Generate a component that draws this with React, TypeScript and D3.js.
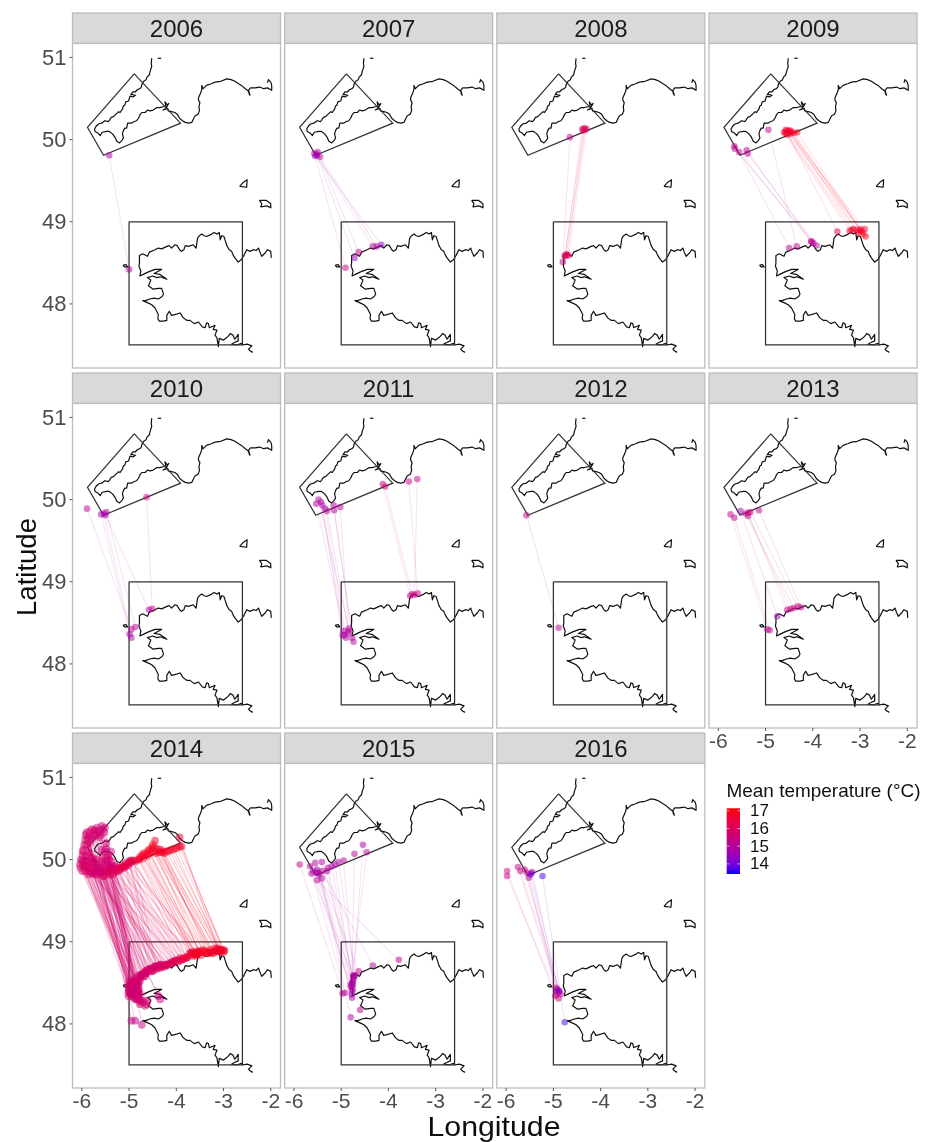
import React from "react";
import * as d3 from "d3";

type Seg = [number, number, number, number, number];
type Pt = [number, number];

const lonTicks = [-6, -5, -4, -3, -2];
const latTicks = [48, 49, 50, 51];
const legendTicks = [14, 15, 16, 17];

const celticBox: Pt[] = [[-4.89, 50.8], [-5.88, 50.15], [-5.54, 49.81], [-3.91, 50.2], [-4.89, 50.8]];
const brittanyBox: Pt[] = [[-5, 49], [-2.6, 49], [-2.6, 47.5], [-5, 47.5], [-5, 49]];

const coastEngland: Pt[] = [
  [-4.52, 50.99], [-4.53, 50.93], [-4.52, 50.89], [-4.55, 50.84], [-4.57, 50.79], [-4.62, 50.76], [-4.64, 50.73], [-4.69, 50.71], [-4.73, 50.67],
  [-4.74, 50.64], [-4.77, 50.62], [-4.82, 50.61], [-4.87, 50.58], [-4.92, 50.58], [-4.96, 50.55], [-4.86, 50.54], [-4.92, 50.52], [-4.98, 50.53],
  [-5.01, 50.47], [-5.07, 50.46], [-5.09, 50.42], [-5.12, 50.41], [-5.14, 50.37], [-5.19, 50.33], [-5.22, 50.34], [-5.26, 50.32], [-5.33, 50.28], [-5.38, 50.27], [-5.41, 50.24], [-5.44, 50.22],
  [-5.51, 50.23], [-5.58, 50.2], [-5.65, 50.19], [-5.7, 50.16], [-5.73, 50.13], [-5.72, 50.1], [-5.66, 50.08], [-5.61, 50.05], [-5.57, 50.09],
  [-5.47, 50.1], [-5.42, 50.1], [-5.35, 50.07], [-5.3, 50.03], [-5.26, 49.98], [-5.2, 49.96], [-5.15, 49.99], [-5.12, 50.02], [-5.14, 50.07],
  [-5.12, 50.11], [-5.09, 50.14], [-5.05, 50.14], [-5.03, 50.2], [-5.01, 50.2], [-4.95, 50.2], [-4.89, 50.22], [-4.84, 50.23], [-4.8, 50.26],
  [-4.77, 50.3], [-4.73, 50.33], [-4.66, 50.33], [-4.61, 50.36], [-4.56, 50.35], [-4.49, 50.36], [-4.41, 50.39], [-4.35, 50.39], [-4.28, 50.4],
  [-4.22, 50.4], [-4.24, 50.46], [-4.19, 50.42], [-4.16, 50.44], [-4.22, 50.38], [-4.28, 50.36], [-4.18, 50.38], [-4.17, 50.35], [-4.1, 50.34],
  [-4.03, 50.33], [-3.98, 50.31], [-3.93, 50.26], [-3.87, 50.23], [-3.81, 50.21], [-3.74, 50.2], [-3.67, 50.21], [-3.63, 50.26], [-3.6, 50.29],
  [-3.54, 50.31], [-3.51, 50.35], [-3.52, 50.4], [-3.5, 50.45], [-3.53, 50.48], [-3.53, 50.51], [-3.49, 50.56], [-3.46, 50.61], [-3.46, 50.66],
  [-3.43, 50.62], [-3.36, 50.66], [-3.26, 50.68], [-3.18, 50.7], [-3.06, 50.71], [-2.93, 50.74], [-2.84, 50.73], [-2.76, 50.71], [-2.68, 50.68],
  [-2.62, 50.66], [-2.54, 50.62], [-2.47, 50.59], [-2.46, 50.56], [-2.44, 50.54], [-2.47, 50.6], [-2.43, 50.63], [-2.33, 50.63], [-2.23, 50.64],
  [-2.15, 50.62], [-2.07, 50.63], [-1.98, 50.6], [-1.98, 50.66], [-2.0, 50.7], [-2.05, 50.73], [-2.07, 50.69],
];
const coastLundy: Pt[] = [[-4.39, 50.99], [-4.32, 50.99]];

const coastBrittany: Pt[] = [
  [-1.99, 48.56], [-2.0, 48.64], [-2.07, 48.66], [-2.12, 48.62], [-2.19, 48.58], [-2.23, 48.63], [-2.26, 48.68], [-2.31, 48.65], [-2.37, 48.66],
  [-2.44, 48.64], [-2.51, 48.66], [-2.56, 48.6], [-2.62, 48.54], [-2.69, 48.51], [-2.76, 48.56], [-2.8, 48.6], [-2.83, 48.64], [-2.88, 48.66],
  [-2.93, 48.71], [-2.99, 48.82], [-3.04, 48.83], [-3.07, 48.78], [-3.09, 48.87], [-3.14, 48.85], [-3.2, 48.87], [-3.25, 48.85], [-3.36, 48.82],
  [-3.41, 48.83], [-3.46, 48.85], [-3.51, 48.83], [-3.55, 48.8], [-3.58, 48.68], [-3.64, 48.72], [-3.74, 48.7], [-3.81, 48.71], [-3.84, 48.66],
  [-3.89, 48.64], [-3.93, 48.66], [-3.98, 48.71], [-4.03, 48.72], [-4.1, 48.68], [-4.15, 48.71], [-4.2, 48.7], [-4.31, 48.67], [-4.38, 48.68],
  [-4.45, 48.66], [-4.57, 48.63], [-4.61, 48.58], [-4.71, 48.61], [-4.78, 48.59], [-4.78, 48.5], [-4.79, 48.46], [-4.75, 48.4], [-4.77, 48.34],
  [-4.7, 48.36], [-4.59, 48.39], [-4.45, 48.42], [-4.31, 48.42], [-4.47, 48.37], [-4.35, 48.36], [-4.2, 48.3], [-4.34, 48.33], [-4.41, 48.32],
  [-4.5, 48.34], [-4.61, 48.32], [-4.54, 48.29], [-4.56, 48.26], [-4.59, 48.22], [-4.54, 48.2], [-4.49, 48.18], [-4.38, 48.19], [-4.31, 48.19],
  [-4.27, 48.12], [-4.3, 48.09], [-4.38, 48.06], [-4.47, 48.07], [-4.56, 48.06], [-4.65, 48.04], [-4.71, 48.04], [-4.59, 48.01], [-4.52, 47.99],
  [-4.45, 47.95], [-4.38, 47.87], [-4.39, 47.82], [-4.36, 47.79], [-4.27, 47.79], [-4.2, 47.8], [-4.2, 47.86], [-4.15, 47.91], [-4.1, 47.86],
  [-4.03, 47.87], [-3.92, 47.89], [-3.85, 47.83], [-3.78, 47.8], [-3.71, 47.8], [-3.62, 47.76], [-3.53, 47.78], [-3.45, 47.72], [-3.39, 47.71],
  [-3.36, 47.77], [-3.32, 47.76], [-3.3, 47.71], [-3.18, 47.74], [-3.22, 47.69], [-3.14, 47.68], [-3.18, 47.62], [-3.14, 47.59], [-3.11, 47.48],
  [-3.09, 47.58], [-3.0, 47.56], [-2.93, 47.59], [-2.88, 47.62], [-2.86, 47.64], [-2.8, 47.62], [-2.76, 47.57], [-2.69, 47.63], [-2.69, 47.55],
  [-2.77, 47.53], [-2.83, 47.51], [-2.72, 47.5], [-2.62, 47.52], [-2.6, 47.5], [-2.5, 47.51], [-2.4, 47.49], [-2.47, 47.45], [-2.44, 47.43], [-2.38, 47.41],
];
const coastOuessant: Pt[] = [[-5.13, 48.47], [-5.07, 48.48], [-5.03, 48.45], [-5.09, 48.45], [-5.13, 48.47]];
const coastGuernsey: Pt[] = [[-2.66, 49.43], [-2.58, 49.48], [-2.5, 49.51], [-2.51, 49.42], [-2.66, 49.43]];
const coastJersey: Pt[] = [[-2.24, 49.26], [-2.09, 49.26], [-2, 49.22], [-2, 49.17], [-2.07, 49.19], [-2.12, 49.19], [-2.21, 49.18], [-2.19, 49.22], [-2.24, 49.26]];

const seg2006: Seg[] = [[-5.42, 49.81, -5.0, 48.42, 14.9]];
const seg2007: Seg[] = [
  [-5.57, 49.83, -4.91, 48.44, 15.2], [-5.52, 49.82, -4.72, 48.56, 14.3], [-5.5, 49.85, -4.63, 48.63, 15.1],
  [-5.51, 49.81, -4.33, 48.7, 15.0], [-5.45, 49.79, -4.25, 48.7, 15.0], [-5.55, 49.8, -4.15, 48.72, 14.3],
];
const seg2008: Seg[] = [
  [-4.65, 50.03, -4.8, 48.51, 15.3], [-4.39, 50.13, -4.75, 48.59, 16.0], [-4.34, 50.14, -4.71, 48.6, 16.1],
  [-4.3, 50.13, -4.68, 48.59, 15.9], [-4.37, 50.11, -4.76, 48.58, 16.0], [-4.33, 50.12, -4.73, 48.6, 16.1],
];
const seg2009: Seg[] = [
  [-5.66, 49.92, -4.03, 48.76, 15.1], [-5.65, 49.89, -3.99, 48.74, 15.2], [-5.56, 49.85, -4.5, 48.68, 15.2],
  [-5.4, 49.87, -4.03, 48.76, 15.1], [-5.38, 49.83, -3.92, 48.71, 15.1], [-4.94, 50.12, -4.34, 48.7, 15.2],
  [-4.61, 50.09, -3.22, 48.89, 16.8], [-4.57, 50.12, -3.48, 48.88, 16.3], [-4.54, 50.06, -3.14, 48.91, 16.8],
  [-4.5, 50.1, -3.07, 48.9, 16.8], [-4.45, 50.09, -2.99, 48.89, 16.9], [-4.4, 50.08, -2.93, 48.85, 17.0],
  [-4.33, 50.09, -2.88, 48.82, 17.0], [-4.56, 50.1, -3.0, 48.91, 16.8], [-4.48, 50.07, -2.9, 48.91, 16.6],
  [-4.58, 50.08, -3.18, 48.9, 16.8], [-4.52, 50.11, -3.04, 48.87, 16.8], [-4.47, 50.11, -2.96, 48.88, 16.8],
];
const seg2010: Seg[] = [
  [-5.89, 49.89, -4.95, 48.42, 15.1], [-5.59, 49.82, -4.99, 48.36, 14.7], [-5.53, 49.83, -4.95, 48.32, 14.8],
  [-5.48, 49.85, -4.87, 48.45, 15.1], [-5.5, 49.81, -4.58, 48.66, 14.7], [-4.63, 50.03, -4.51, 48.67, 15.4],
];
const seg2011: Seg[] = [
  [-5.53, 49.95, -4.95, 48.4, 15.0], [-5.48, 50.0, -4.84, 48.43, 15.0], [-5.43, 49.97, -4.93, 48.35, 14.9],
  [-5.4, 49.93, -4.97, 48.35, 14.8], [-5.34, 49.89, -4.9, 48.32, 14.9], [-5.3, 49.86, -4.84, 48.38, 15.0],
  [-5.16, 49.93, -4.77, 48.32, 14.9], [-5.15, 49.87, -4.74, 48.27, 15.0], [-5.02, 49.91, -4.85, 48.4, 15.0],
  [-4.12, 50.19, -3.54, 48.83, 15.5], [-4.07, 50.16, -3.5, 48.85, 15.5], [-3.57, 50.22, -3.38, 48.86, 15.4],
  [-3.39, 50.25, -3.45, 48.84, 15.4],
];
const seg2012: Seg[] = [[-5.57, 49.81, -4.89, 48.44, 15.2]];
const seg2013: Seg[] = [
  [-5.74, 49.82, -4.96, 48.42, 15.2], [-5.66, 49.78, -4.91, 48.41, 15.1], [-5.53, 49.86, -4.75, 48.58, 14.6],
  [-5.37, 49.84, -4.54, 48.66, 15.4], [-5.37, 49.8, -4.47, 48.67, 15.4], [-5.32, 49.85, -4.32, 48.7, 15.4],
  [-5.14, 49.87, -4.25, 48.69, 15.3], [-5.42, 49.83, -4.4, 48.68, 15.4],
];
const seg2014: Seg[] = [
  [-5.9, 50.33, -5.01, 48.42, 15.8], [-5.79, 50.37, -4.98, 48.38, 15.8], [-5.68, 50.39, -4.94, 48.34, 15.7], [-5.58, 50.41, -4.87, 48.3, 15.6],
  [-5.51, 50.39, -4.87, 48.46, 15.7], [-5.86, 50.27, -4.94, 48.38, 15.9], [-5.75, 50.31, -4.8, 48.34, 15.8], [-5.65, 50.33, -4.77, 48.28, 15.7],
  [-5.93, 50.24, -5.01, 48.34, 15.8], [-5.83, 50.2, -4.98, 48.42, 15.9], [-5.97, 50.12, -5.01, 48.46, 15.8], [-5.86, 50.12, -4.94, 48.46, 15.9],
  [-6.0, 49.98, -5.01, 48.38, 15.8], [-5.97, 49.92, -4.98, 48.46, 15.8], [-5.93, 49.86, -4.94, 48.42, 15.9], [-5.86, 49.82, -4.87, 48.42, 16.0],
  [-5.79, 49.9, -4.87, 48.5, 15.9], [-5.72, 49.86, -4.8, 48.42, 15.9], [-5.65, 49.82, -4.77, 48.56, 15.9], [-5.54, 49.8, -4.73, 48.6, 15.9],
  [-5.4, 49.82, -4.7, 48.58, 15.8], [-5.3, 49.86, -4.66, 48.64, 15.8], [-5.19, 49.88, -4.63, 48.65, 15.7], [-5.08, 49.92, -4.56, 48.67, 15.8],
  [-4.98, 49.96, -4.45, 48.7, 15.7], [-5.44, 50.05, -4.52, 48.68, 15.7], [-5.37, 49.98, -4.61, 48.65, 15.8], [-5.51, 50.1, -4.73, 48.6, 15.9],
  [-5.58, 49.98, -4.38, 48.7, 15.9], [-5.75, 50.02, -4.34, 48.72, 16.0], [-5.86, 49.98, -4.2, 48.72, 16.0], [-5.93, 49.92, -4.17, 48.72, 16.0],
  [-5.68, 49.94, -4.03, 48.76, 16.0], [-5.47, 49.92, -3.89, 48.78, 16.1], [-5.37, 49.9, -3.78, 48.81, 16.2], [-6.04, 49.94, -4.8, 48.5, 15.8],
  [-5.98, 50.1, -4.87, 48.34, 15.8], [-5.9, 50.04, -4.8, 48.3, 15.8], [-5.83, 49.94, -4.77, 48.24, 15.9], [-5.79, 49.84, -4.66, 48.22, 15.7],
  [-5.72, 49.82, -4.61, 48.28, 15.6], [-5.65, 49.86, -4.66, 48.58, 15.8], [-5.58, 49.84, -4.56, 48.67, 15.8], [-5.51, 49.86, -4.45, 48.7, 15.9],
  [-5.47, 49.88, -4.38, 48.7, 15.9], [-5.44, 49.84, -4.34, 48.72, 15.9], [-5.4, 49.9, -4.27, 48.72, 16.0], [-5.3, 49.92, -4.2, 48.72, 16.0],
  [-5.26, 49.88, -4.1, 48.75, 16.0], [-5.19, 49.9, -4.03, 48.76, 16.1], [-5.12, 49.92, -3.96, 48.76, 16.1], [-5.05, 49.94, -3.89, 48.78, 16.2],
  [-4.98, 49.97, -3.78, 48.81, 16.3], [-4.94, 49.98, -3.67, 48.87, 16.4], [-5.54, 49.86, -3.6, 48.85, 16.2], [-5.72, 49.9, -3.96, 48.77, 16.0],
  [-5.86, 49.88, -4.1, 48.74, 16.0], [-5.97, 49.98, -4.27, 48.71, 15.9], [-5.93, 50.04, -4.45, 48.69, 15.9], [-5.83, 50.08, -4.56, 48.66, 15.8],
  [-5.9, 50.18, -4.66, 48.62, 15.8], [-5.8, 50.28, -4.73, 48.58, 15.7], [-5.72, 50.35, -4.77, 48.52, 15.8], [-5.6, 50.3, -4.8, 48.46, 15.7],
  [-5.52, 50.33, -4.84, 48.4, 15.7], [-5.48, 50.2, -4.87, 48.36, 15.6], [-5.38, 50.1, -4.84, 48.3, 15.6], [-5.45, 49.96, -4.73, 48.26, 15.7],
  [-5.6, 49.9, -4.63, 48.24, 15.7], [-5.7, 49.95, -4.38, 48.34, 15.5], [-5.75, 49.98, -4.34, 48.3, 15.4], [-5.55, 49.94, -4.95, 48.04, 15.4],
  [-5.65, 49.88, -4.87, 48.04, 15.3], [-5.3, 49.92, -4.73, 47.99, 15.4], [-5.0, 49.98, -4.5, 48.64, 15.7], [-4.9, 49.99, -4.42, 48.7, 15.7],
  [-5.92, 50.3, -4.96, 48.44, 15.8], [-5.84, 50.34, -5.0, 48.4, 15.7], [-5.74, 50.36, -4.9, 48.36, 15.7], [-5.62, 50.36, -4.86, 48.4, 15.7],
  [-5.55, 50.37, -4.93, 48.5, 15.6], [-5.88, 50.24, -4.82, 48.3, 15.8], [-5.78, 50.25, -4.79, 48.38, 15.8], [-5.7, 50.29, -4.9, 48.48, 15.7],
  [-5.62, 50.27, -4.84, 48.48, 15.7], [-5.95, 50.18, -4.96, 48.36, 15.8], [-5.99, 50.05, -4.9, 48.32, 15.8], [-6.02, 50.0, -4.84, 48.34, 15.7],
  [-6.03, 49.9, -4.97, 48.5, 15.8], [-5.99, 49.86, -4.92, 48.53, 15.9], [-5.9, 49.9, -4.86, 48.56, 15.9], [-5.89, 49.98, -4.81, 48.58, 15.8],
  [-5.82, 50.02, -4.76, 48.6, 15.8], [-5.78, 49.95, -4.69, 48.62, 15.8], [-5.7, 50.0, -4.63, 48.62, 15.8], [-5.68, 49.86, -4.58, 48.65, 15.8],
  [-5.62, 49.9, -4.53, 48.64, 15.9], [-5.56, 50.02, -4.48, 48.66, 15.8], [-5.52, 49.8, -4.42, 48.67, 15.9], [-5.46, 50.03, -4.36, 48.68, 15.9],
  [-5.42, 49.88, -4.3, 48.69, 16.0], [-5.35, 49.82, -4.24, 48.7, 16.0], [-5.28, 49.85, -4.14, 48.74, 16.0], [-5.22, 49.86, -4.07, 48.76, 16.1],
  [-5.15, 49.9, -4.0, 48.78, 16.1], [-5.1, 49.9, -3.92, 48.8, 16.2], [-5.02, 49.93, -3.84, 48.79, 16.2], [-5.6, 49.85, -4.82, 48.5, 15.7],
  [-5.76, 49.83, -4.88, 48.52, 15.7], [-5.84, 49.85, -4.95, 48.5, 15.8], [-5.95, 49.95, -5.0, 48.52, 15.8], [-5.48, 50.13, -4.93, 48.43, 15.6],
  [-5.58, 50.12, -4.88, 48.39, 15.6], [-5.42, 50.0, -4.8, 48.38, 15.6], [-5.5, 49.98, -4.76, 48.3, 15.7], [-5.36, 49.92, -4.7, 48.28, 15.7],
  [-5.24, 49.9, -3.7, 48.84, 16.3], [-5.14, 49.93, -3.56, 48.86, 16.4], [-5.06, 49.96, -3.46, 48.88, 16.4], [-4.96, 49.99, -3.58, 48.88, 16.5],
  [-4.87, 49.98, -3.85, 48.8, 16.6], [-4.8, 50.0, -3.78, 48.81, 16.7], [-4.77, 50.03, -3.67, 48.87, 16.8], [-4.73, 50.05, -3.62, 48.85, 16.8],
  [-4.66, 50.06, -3.6, 48.85, 16.8], [-4.61, 50.05, -3.57, 48.83, 16.9], [-4.56, 50.08, -3.5, 48.87, 16.9], [-4.49, 50.1, -3.43, 48.9, 16.9],
  [-4.52, 50.14, -3.36, 48.88, 16.9], [-4.45, 50.23, -3.3, 48.87, 16.7], [-4.5, 50.18, -3.25, 48.87, 16.9], [-4.43, 50.08, -3.2, 48.88, 16.8],
  [-4.36, 50.09, -3.14, 48.9, 16.9], [-4.31, 50.09, -3.09, 48.9, 16.9], [-4.2, 50.1, -3.07, 48.9, 16.8], [-4.1, 50.12, -3.04, 48.9, 16.8],
  [-3.99, 50.14, -3.0, 48.9, 16.9], [-3.93, 50.16, -2.98, 48.89, 16.8], [-3.89, 50.16, -3.0, 48.88, 16.7], [-3.93, 50.27, -3.1, 48.88, 16.5],
  [-4.7, 50.02, -3.4, 48.88, 16.8], [-4.6, 50.1, -3.55, 48.86, 16.8], [-4.4, 50.13, -3.28, 48.9, 16.8], [-4.25, 50.08, -3.18, 48.92, 16.9],
  [-4.78, 50.0, -3.72, 48.86, 16.7], [-4.69, 50.08, -3.65, 48.83, 16.8], [-4.58, 50.12, -3.47, 48.84, 16.9], [-4.47, 50.15, -3.52, 48.89, 16.9],
  [-4.33, 50.12, -3.33, 48.86, 16.9], [-4.28, 50.1, -3.22, 48.86, 16.8], [-4.15, 50.11, -3.12, 48.92, 16.8], [-4.05, 50.13, -3.06, 48.88, 16.9],
];
const seg2015: Seg[] = [
  [-5.88, 49.94, -4.97, 48.37, 15.2], [-5.66, 49.92, -4.92, 48.38, 15.0], [-5.55, 49.96, -4.8, 48.48, 15.0], [-5.41, 49.97, -4.74, 48.59, 15.0],
  [-5.63, 49.83, -4.74, 48.57, 15.0], [-5.59, 49.86, -4.77, 48.4, 15.0], [-5.51, 49.88, -4.77, 48.32, 14.8], [-5.48, 49.84, -4.63, 48.64, 15.1],
  [-5.4, 49.86, -4.33, 48.71, 15.1], [-5.51, 49.75, -3.78, 48.78, 15.1], [-5.41, 49.77, -4.8, 48.08, 14.9], [-5.28, 49.9, -4.6, 48.17, 15.1],
  [-5.13, 49.94, -4.77, 48.46, 14.8], [-5.06, 49.97, -4.7, 48.59, 14.8], [-4.95, 49.99, -4.74, 48.59, 14.9], [-4.72, 50.07, -4.77, 48.5, 15.1],
  [-4.54, 50.18, -4.74, 48.55, 15.0], [-4.46, 50.09, -4.8, 48.45, 15.1], [-5.52, 49.84, -4.78, 48.36, 14.7], [-5.3, 49.86, -4.76, 48.42, 14.8],
  [-5.2, 49.92, -4.75, 48.52, 14.8], [-5.46, 49.82, -4.75, 48.48, 14.7],
];
const seg2016: Seg[] = [
  [-5.98, 49.86, -4.96, 48.34, 15.5], [-5.98, 49.8, -4.89, 48.31, 15.4], [-5.75, 49.91, -4.92, 48.42, 15.2], [-5.7, 49.86, -4.87, 48.4, 15.3],
  [-5.61, 49.88, -4.85, 48.36, 15.4], [-5.52, 49.78, -4.94, 48.44, 15.2], [-5.45, 49.85, -4.9, 48.41, 15.1], [-5.49, 49.82, -4.93, 48.4, 14.2],
  [-5.23, 49.8, -4.76, 48.02, 13.6], [-5.47, 49.83, -4.88, 48.39, 13.9], [-5.56, 49.84, -4.93, 48.36, 15.4],
];

const years = [2006, 2007, 2008, 2009, 2010, 2011, 2012, 2013, 2014, 2015, 2016];
const segments = [seg2006, seg2007, seg2008, seg2009, seg2010, seg2011, seg2012, seg2013, seg2014, seg2015, seg2016];

const lonDomain: Pt = [-6.197, -1.794];
const latDomain: Pt = [47.22, 51.17];
const tempDomain: Pt = [13.43, 17.14];

const panelW = 208;
const panelH = 324.5;
const font = "'Liberation Sans', Arial, sans-serif";

const x = d3.scaleLinear().domain(lonDomain).range([0, panelW]);
const y = d3.scaleLinear().domain(latDomain).range([panelH, 0]);
const colX = d3.scaleLinear().domain([0, 3]).range([72.5, 709]);
const rowY = d3.scaleLinear().domain([0, 2]).range([43.5, 763.5]);
const temp = d3.scaleSequential(d3.interpolateLab("blue", "red")).domain(tempDomain);
const path = d3.line<Pt>().x((d) => x(d[0])).y((d) => y(d[1]));
const legendY = d3.scaleLinear().domain(tempDomain).range([874, 808.3]);
const legendStops = d3.range(0, 1.01, 0.1);

const coastLines = [coastEngland, coastLundy, coastBrittany, coastOuessant, coastGuernsey, coastJersey];

function Panel({ index }: { index: number }) {
  const col = index % 4;
  const row = Math.floor(index / 4);
  const segs = segments[index];
  const showX = row === 2 || index === 7;
  const r = index === 8 ? 3.9 : 3.3;
  return (
    <g transform={`translate(${colX(col)},${rowY(row)})`}>
      <rect x={0} y={-30.5} width={panelW} height={30.5} fill="#d9d9d9" stroke="#bdbdbd" strokeWidth={1.3} />
      <text x={panelW / 2} y={-15} textAnchor="middle" dominantBaseline="central" fontSize={24} fill="#1a1a1a" fontFamily={font}>
        {years[index]}
      </text>
      <rect x={0} y={0} width={panelW} height={panelH} fill="white" />
      {coastLines.map((c, i) => (
        <path key={i} d={path(c) ?? ""} fill="none" stroke="#111" strokeWidth={1.2} strokeLinejoin="round" />
      ))}
      {[celticBox, brittanyBox].map((c, i) => (
        <path key={i} d={path(c) ?? ""} fill="none" stroke="#333" strokeWidth={1.25} />
      ))}
      {segs.map((s, i) => (
        <line key={i} x1={x(s[0])} y1={y(s[1])} x2={x(s[2])} y2={y(s[3])} stroke={temp(s[4])} strokeOpacity={index === 8 ? 0.2 : 0.11} strokeWidth={1.1} />
      ))}
      {segs.flatMap((s, i) => [
        <circle key={`a${i}`} cx={x(s[0])} cy={y(s[1])} r={r} fill={temp(s[4])} fillOpacity={0.5} />,
        <circle key={`b${i}`} cx={x(s[2])} cy={y(s[3])} r={r} fill={temp(s[4])} fillOpacity={0.5} />,
      ])}
      <rect x={0} y={0} width={panelW} height={panelH} fill="none" stroke="#bdbdbd" strokeWidth={1.3} />
      {col === 0 &&
        latTicks.map((t) => (
          <g key={t}>
            <line x1={-3} x2={0} y1={y(t)} y2={y(t)} stroke="#555" strokeWidth={1} />
            <text x={-6} y={y(t)} textAnchor="end" dominantBaseline="central" fontSize={22} fill="#4d4d4d" fontFamily={font}>
              {t}
            </text>
          </g>
        ))}
      {showX &&
        lonTicks.map((t) => (
          <g key={t}>
            <line x1={x(t)} x2={x(t)} y1={panelH} y2={panelH + 3} stroke="#555" strokeWidth={1} />
            <text x={x(t)} y={panelH + 12} textAnchor="middle" dominantBaseline="central" fontSize={21} fill="#4d4d4d" fontFamily={font}>
              {t}
            </text>
          </g>
        ))}
    </g>
  );
}

export default function App() {
  return (
    <svg width={934} height={1142} style={{ position: "absolute", left: 0, top: 0, background: "white" }} fontFamily={font}>
      <defs>
        <linearGradient id="legendGrad" x1="0" x2="0" y1="1" y2="0">
          {legendStops.map((t) => (
            <stop key={t} offset={t} stopColor={temp(tempDomain[0] + t * (tempDomain[1] - tempDomain[0]))} />
          ))}
        </linearGradient>
        <filter id="soft" x="0" y="0" width="100%" height="100%">
          <feGaussianBlur stdDeviation={0.4} />
        </filter>
      </defs>
      <g filter="url(#soft)">
        <rect x={0} y={0} width={934} height={1142} fill="white" />
        {years.map((_, i) => (
          <Panel key={i} index={i} />
        ))}
        <text transform="translate(26,567) rotate(-90)" textAnchor="middle" dominantBaseline="central" fontSize={27.5} fill="#111">
          Latitude
        </text>
        <text x={494} y={1136} textAnchor="middle" fontSize={28} fill="#111" textLength={133} lengthAdjust="spacingAndGlyphs">
          Longitude
        </text>
        <text x={726.5} y={790} dominantBaseline="central" fontSize={19} fill="#111" textLength={194} lengthAdjust="spacingAndGlyphs">
          Mean temperature (°C)
        </text>
        <rect x={726.7} y={legendY(tempDomain[1])} width={13.3} height={legendY(tempDomain[0]) - legendY(tempDomain[1])} fill="url(#legendGrad)" />
        {legendTicks.map((t) => (
          <g key={t}>
            <line x1={726.7} x2={729.4} y1={legendY(t)} y2={legendY(t)} stroke="white" strokeOpacity={0.6} />
            <line x1={737.3} x2={740} y1={legendY(t)} y2={legendY(t)} stroke="white" strokeOpacity={0.6} />
            <text x={750} y={legendY(t)} dominantBaseline="central" fontSize={17} fill="#111">
              {t}
            </text>
          </g>
        ))}
      </g>
    </svg>
  );
}
